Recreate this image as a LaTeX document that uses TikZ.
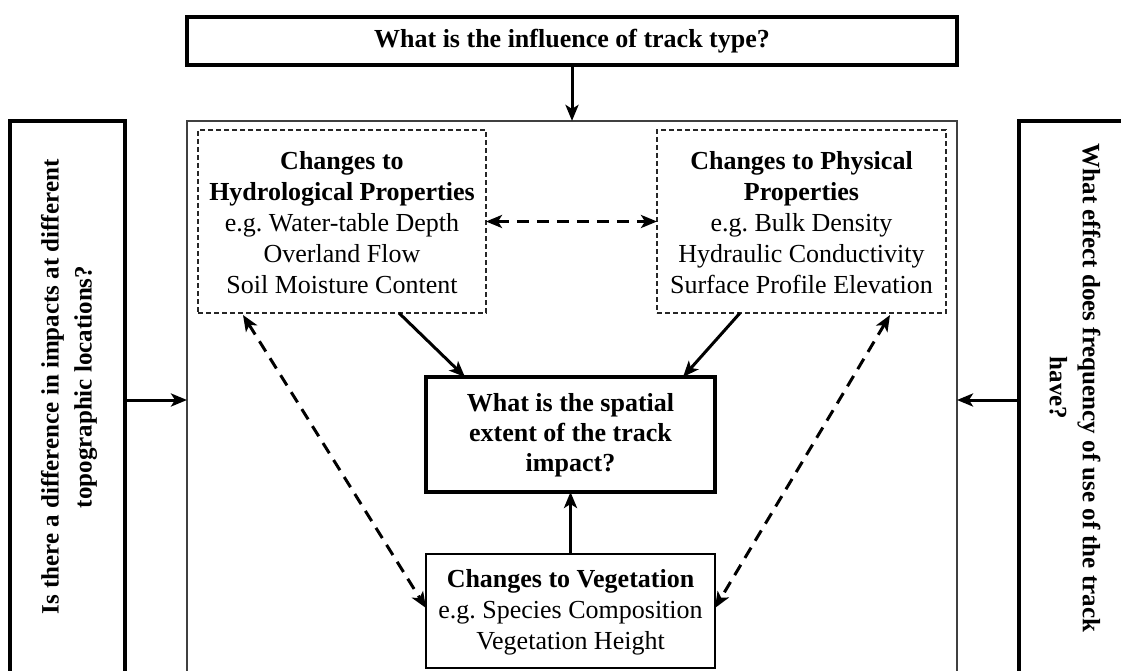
\documentclass[tikz,border=0pt]{standalone}
\usepackage{fontspec}
\setmainfont{Liberation Serif}
\frenchspacing
\usetikzlibrary{arrows.meta}

\begin{document}
\begin{tikzpicture}[x=1pt,y=1pt,
  txt/.style={font=\fontsize{26}{31}\selectfont, align=center, inner sep=0pt},
  sidetxt/.style={font=\fontsize{25}{33}\selectfont\bfseries, align=center, inner sep=0pt},
  boxbase/.style={inner sep=0pt, outer sep=0pt},
  thickbox/.style={boxbase, draw=black, line width=3.3pt},
  thinbox/.style={boxbase, draw=black, line width=1.4pt},
  framebox/.style={boxbase, draw=black!75, line width=1.5pt},
  dashbox/.style={boxbase, draw=black!85, line width=1.2pt, dash pattern=on 5pt off 3pt},
  arr/.style={line width=3pt, -{Stealth[length=16pt,width=13pt,inset=4pt]}},
  dasharr/.style={line width=3pt, dash pattern=on 12pt off 8pt,
    {Stealth[length=16pt,width=13pt,inset=4pt]}-{Stealth[length=16pt,width=13pt,inset=4pt]}}
]
\useasboundingbox (0,0) rectangle (1121,-671);
\clip (0,0) rectangle (1121,-671);
\fill[white] (0,0) rectangle (1121,-671);

% outer frames
\node[thickbox, minimum width=770pt, minimum height=48pt] (top) at (572,-41) {};
\node[txt, font=\fontsize{26}{31}\selectfont\bfseries] (toptxt) at (572,-41) {What is the influence of track type?};

\node[framebox, minimum width=770pt, minimum height=579pt] (main) at (572,-410.4) {};

\node[thickbox, minimum width=115pt, minimum height=579pt] (leftbox) at (67.5,-410.5) {};
\node[sidetxt, rotate=90] (lefttxt) at (69,-387) {Is there a difference in impacts at different\\topographic locations?};

\node[thickbox, minimum width=115pt, minimum height=579pt] (rightbox) at (1076.5,-410.5) {};
\node[sidetxt, rotate=-90] (righttxt) at (1075,-388) {What effect does frequency of use of the track\\have?};

% inner boxes
\node[dashbox, minimum width=288pt, minimum height=183pt] (hyd) at (342,-221.5) {};
\node[txt] (hydtxt) at (342,-222.5) {\textbf{Changes to}\\\textbf{Hydrological Properties}\\e.g. Water-table Depth\\Overland Flow\\Soil Moisture Content};

\node[dashbox, minimum width=289pt, minimum height=183pt] (phy) at (801.5,-221.5) {};
\node[txt] (phytxt) at (801.5,-222.5) {\textbf{Changes to Physical}\\\textbf{Properties}\\e.g. Bulk Density\\Hydraulic Conductivity\\Surface Profile Elevation};

\node[thickbox, minimum width=289pt, minimum height=115pt] (cen) at (570.5,-434.5) {};
\node[txt, font=\fontsize{26}{30}\selectfont\bfseries] (centxt) at (570.5,-435.5) {What is the spatial\\extent of the track\\impact?};

\node[thinbox, minimum width=289pt, minimum height=114pt] (veg) at (570.5,-611) {};
\node[txt] (vegtxt) at (570.5,-612) {\textbf{Changes to Vegetation}\\e.g. Species Composition\\Vegetation Height};

% connectors
\draw[arr] (top.south) -- (main.north);
\draw[arr] ([yshift=10.5pt]leftbox.east) -- ([yshift=10.4pt]main.west);
\draw[arr] ([yshift=10.5pt]rightbox.west) -- ([yshift=10.4pt]main.east);
\draw[dasharr] (hyd.east) -- (phy.west);
\draw[arr] ([xshift=201pt]hyd.south west) -- ([xshift=39pt]cen.north west);
\draw[arr] ([xshift=83pt]phy.south west) -- ([xshift=-32pt]cen.north east);
\draw[arr] (veg.north) -- (cen.south);
\draw[dasharr] ([xshift=45pt,yshift=-2pt]hyd.south west) -- ([yshift=3pt]veg.west);
\draw[dasharr] ([xshift=-56pt,yshift=-2pt]phy.south east) -- ([yshift=3pt]veg.east);
\end{tikzpicture}
\end{document}
